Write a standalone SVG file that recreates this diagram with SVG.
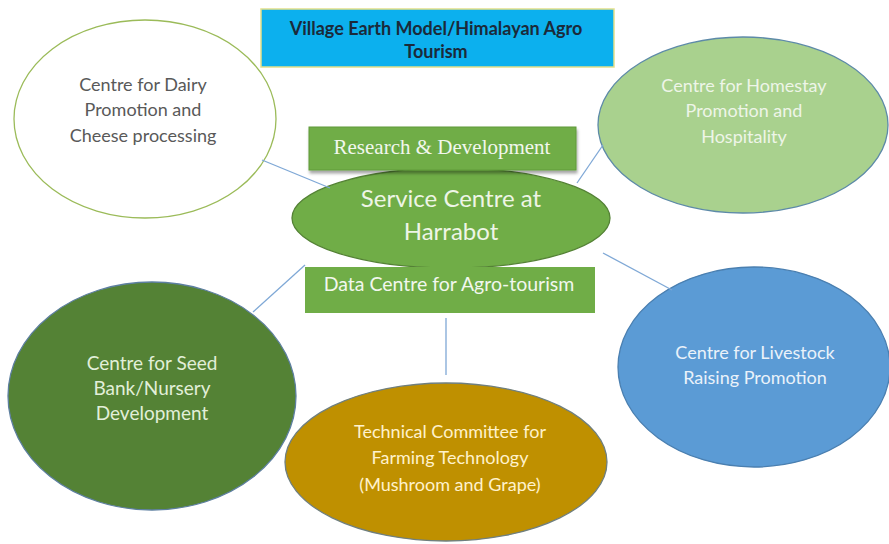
<svg xmlns="http://www.w3.org/2000/svg" width="889" height="544" viewBox="0 0 889 544">
<defs>
<filter id="sh" x="-10%" y="-20%" width="120%" height="150%"><feDropShadow dx="1" dy="3" stdDeviation="1.5" flood-color="#000" flood-opacity="0.35"/></filter>
</defs>
<style>
text{font-family:Lato,"Open Sans","Liberation Sans",sans-serif;text-anchor:middle}
.t18{font-size:18px}
.conn line{stroke:#7fa8d6;stroke-width:1.3}
</style>
<rect width="889" height="544" fill="#ffffff"/>
<g id="title">
<rect x="261" y="9" width="353" height="58" fill="#0cb0ee" stroke="#e3e08a" stroke-width="1.5"/>
<text x="436" y="35" font-size="18" font-weight="bold" fill="#1b2a3a">Village Earth Model/Himalayan Agro</text>
<text x="436" y="58" font-size="18" font-weight="bold" fill="#1b2a3a">Tourism</text>
</g>
<g id="dairy">
<ellipse cx="145" cy="119" rx="131" ry="99" fill="#ffffff" stroke="#9bbb59" stroke-width="1.3"/>
<text class="t18" x="143" y="91" fill="#595959">Centre for Dairy</text>
<text class="t18" x="143" y="116" fill="#595959">Promotion and</text>
<text class="t18" x="143" y="142" fill="#595959">Cheese processing</text>
</g>
<g id="homestay">
<ellipse cx="743" cy="125" rx="145" ry="88" fill="#a9d18e" stroke="#5d8aa8" stroke-width="1.3"/>
<text class="t18" x="744" y="92" fill="#eef5e8">Centre for Homestay</text>
<text class="t18" x="744" y="117" fill="#eef5e8">Promotion and</text>
<text class="t18" x="744" y="143" fill="#eef5e8">Hospitality</text>
</g>
<g id="service">
<ellipse cx="451" cy="218" rx="159" ry="50" fill="#70ad47" stroke="#548235" stroke-width="1.3"/>
<text x="451" y="207" font-size="24" fill="#eef5e6">Service Centre at</text>
<text x="451" y="240" font-size="24" fill="#eef5e6">Harrabot</text>
</g>
<g id="research">
<rect x="309" y="127" width="267" height="43" fill="#70ad47" stroke="#5e9a3a" stroke-width="1" filter="url(#sh)"/>
<text x="442" y="154" font-size="21" fill="#f2f7ee" style="font-family:'Liberation Serif',serif">Research &amp; Development</text>
</g>
<g id="data">
<rect x="305" y="267" width="290" height="46" fill="#70ad47"/>
<text x="449" y="291" font-size="19.5" fill="#f2f7ee">Data Centre for Agro-tourism</text>
</g>
<g id="seed">
<ellipse cx="152" cy="396" rx="144" ry="114" fill="#548235" stroke="#5d7fa0" stroke-width="1.3"/>
<text x="152" y="370" font-size="19" fill="#e2efd9">Centre for Seed</text>
<text x="152" y="395" font-size="19" fill="#e2efd9">Bank/Nursery</text>
<text x="152" y="420" font-size="19" fill="#e2efd9">Development</text>
</g>
<g id="technical">
<ellipse cx="446" cy="462" rx="161" ry="79" fill="#bf9000" stroke="#6f7f7f" stroke-width="1.3"/>
<text class="t18" x="450" y="438" fill="#fff2cc">Technical Committee for</text>
<text class="t18" x="450" y="464" fill="#fff2cc">Farming Technology</text>
<text class="t18" x="450" y="491" fill="#fff2cc">(Mushroom and Grape)</text>
</g>
<g id="livestock">
<ellipse cx="754" cy="367" rx="136" ry="100" fill="#5b9bd5" stroke="#4a7fb0" stroke-width="1.3"/>
<text class="t18" x="755" y="359" fill="#eaf2fa">Centre for Livestock</text>
<text class="t18" x="755" y="384" fill="#eaf2fa">Raising Promotion</text>
</g>
<g id="connectors" class="conn">
<line x1="262" y1="160" x2="330" y2="188"/>
<line x1="603" y1="145" x2="577" y2="183"/>
<line x1="253" y1="312" x2="305" y2="265"/>
<line x1="446" y1="318" x2="446" y2="375"/>
<line x1="603" y1="253" x2="672" y2="290"/>
</g>
</svg>
